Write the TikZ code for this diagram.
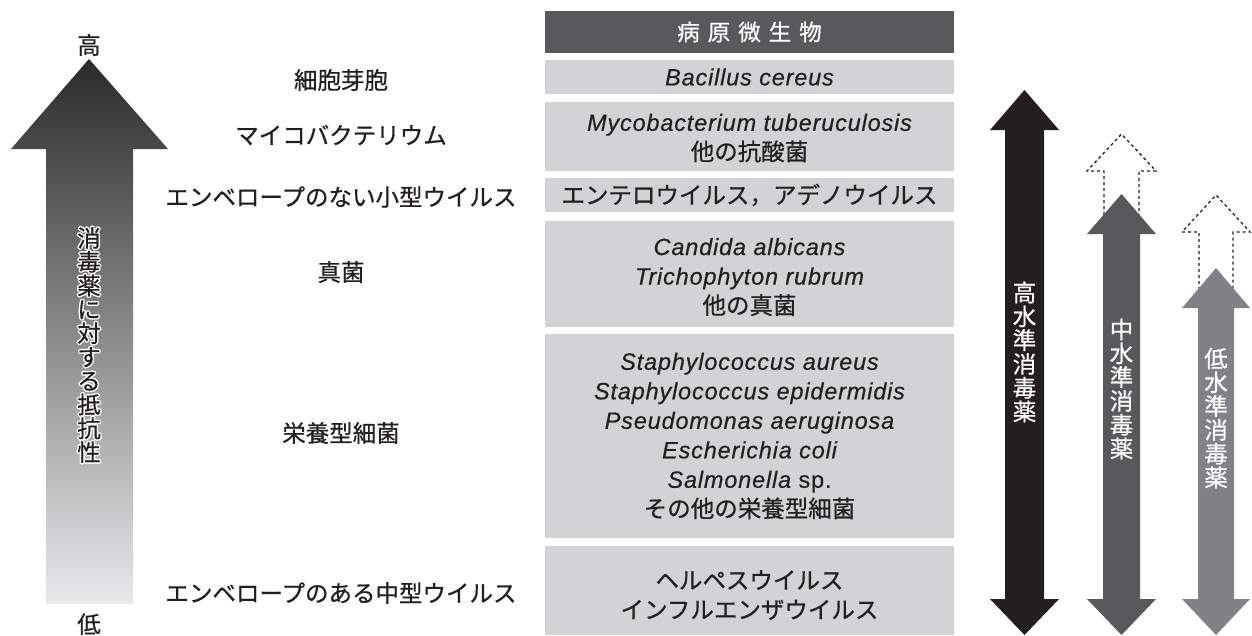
\documentclass[tikz,border=0pt]{standalone}
\usepackage{fontspec}
\setmainfont{Liberation Sans}
\newfontfamily\jp[FakeBold=0.7]{Noto Sans CJK JP}
\newfontfamily\lat[LetterSpace=3.5,FakeBold=0.5]{Liberation Sans}
\usetikzlibrary{positioning}
\definecolor{ink}{HTML}{231F20}
\definecolor{hdrgray}{HTML}{58595B}
\definecolor{boxgray}{HTML}{D1D3D4}
\definecolor{lowgray}{HTML}{808285}
\definecolor{shadetop}{HTML}{2B2A2B}
\definecolor{shadebot}{HTML}{E8E9EA}
\newcommand\jtxt{\jp\fontsize{23.5pt}{29.5pt}\selectfont}
\newcommand\ltxt{\lat\itshape\fontsize{23.5pt}{29.5pt}\selectfont}
\newcommand\rtxt{\lat\fontsize{23.5pt}{29.5pt}\selectfont}

\begin{document}
\begin{tikzpicture}[x=1pt,y=-1pt,
  rowbox/.style={fill=boxgray},
  sidelbl/.style={text=ink,font=\jtxt,inner sep=0pt},
  celltxt/.style={text=ink,align=center,inner sep=0pt,font=\rtxt},
  tate/.style={align=center,inner sep=0pt,font={\jp\fontsize{23.5pt}{23.8pt}\selectfont}},
  ghost/.style={draw=ink,line width=1.3pt,dash pattern=on 3pt off 3pt}]
\useasboundingbox (0,0) rectangle (1252,635);

% resistance arrow
\shade[top color=shadetop,bottom color=shadebot] (89,59) -- (168,149) -- (133,149) -- (133,604) -- (46,604) -- (46,149) -- (11,149) -- cycle;
\node[sidelbl] (hi) at (89,45) {高};
\node[sidelbl] (lo) at (89,624) {低};
\foreach \dx/\dy [count=\k] in {1.4/0,-1.4/0,0/1.4,0/-1.4,1/1,-1/1,1/-1,-1/-1}
  \node[tate,text=white] (halo\k) at (89+\dx,345+\dy) {消\\毒\\薬\\に\\対\\す\\る\\抵\\抗\\性};
\node[tate,text=ink] (resist) at (89,345) {消\\毒\\薬\\に\\対\\す\\る\\抵\\抗\\性};

% organism groups
\node[sidelbl] (l1) at (341,80) {細胞芽胞};
\node[sidelbl] (l2) at (341,135) {マイコバクテリウム};
\node[sidelbl] (l3) at (341,197) {エンベロープのない小型ウイルス};
\node[sidelbl] (l4) at (341,272) {真菌};
\node[sidelbl] (l5) at (341,433) {栄養型細菌};
\node[sidelbl] (l6) at (341,593) {エンベロープのある中型ウイルス};

% table
\fill[hdrgray] (545,11) rectangle (954,53);
\node[text=white,inner sep=0pt,font={\jp\fontsize{22.5pt}{26pt}\selectfont}] (hdr) at (749.5,32) {病\hspace{8pt}原\hspace{8pt}微\hspace{8pt}生\hspace{8pt}物};
\foreach \t/\b in {60/94,102/171,178/212,221/327,334/538,546/635}
  \fill[rowbox] (545,\t) rectangle (954,\b);
\node[celltxt] (c1) at (749.5,77) {\ltxt Bacillus cereus};
\node[celltxt] (c2) at (749.5,138) {{\ltxt Mycobacterium tuberuculosis}\\{\jtxt 他の抗酸菌}};
\node[celltxt] (c3) at (749.5,195) {\jtxt エンテロウイルス，アデノウイルス};
\node[celltxt] (c4) at (749.5,277) {{\ltxt Candida albicans}\\{\ltxt Trichophyton rubrum}\\{\jtxt 他の真菌}};
\node[celltxt] (c5) at (749.5,436) {{\ltxt Staphylococcus aureus}\\{\ltxt Staphylococcus epidermidis}\\{\ltxt Pseudomonas aeruginosa}\\{\ltxt Escherichia coli}\\{\ltxt Salmonella} sp.\\{\jtxt その他の栄養型細菌}};
\node[celltxt] (c6) at (749.5,595) {{\jtxt ヘルペスウイルス}\\{\jtxt インフルエンザウイルス}};

% disinfectant levels
\fill[ink] (1024.5,90) -- (1059,130) -- (1044,130) -- (1044,599) -- (1059,599) -- (1024.5,635) -- (990,599) -- (1005,599) -- (1005,130) -- (990,130) -- cycle;
\node[tate,text=white] (hlv) at (1024.5,352) {高\\水\\準\\消\\毒\\薬};

\draw[ghost] (1104,215) -- (1104,171) -- (1087,171) -- (1121.5,134) -- (1156,171) -- (1139,171) -- (1139,215);
\fill[hdrgray] (1121.5,194) -- (1156,234) -- (1140,234) -- (1140,599) -- (1156,599) -- (1121.5,635) -- (1087,599) -- (1103,599) -- (1103,234) -- (1087,234) -- cycle;
\node[tate,text=white] (mlv) at (1121.5,389) {中\\水\\準\\消\\毒\\薬};

\draw[ghost] (1199,290) -- (1199,232) -- (1182,232) -- (1216,195) -- (1250,232) -- (1233,232) -- (1233,290);
\fill[lowgray] (1216,268) -- (1250,308) -- (1234,308) -- (1234,599) -- (1250,599) -- (1216,635) -- (1182,599) -- (1198,599) -- (1198,308) -- (1182,308) -- cycle;
\node[tate,text=white] (llv) at (1216,418) {低\\水\\準\\消\\毒\\薬};
\end{tikzpicture}
\end{document}
